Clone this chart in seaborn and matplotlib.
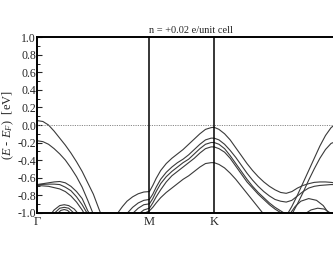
import numpy as np
import pandas as pd
import matplotlib
matplotlib.use("Agg")
import matplotlib.pyplot as plt
import seaborn as sns

sns.set_style("ticks")
plt.rcParams['font.family'] = ['Liberation Serif', 'DejaVu Serif']
plt.rcParams['mathtext.fontset'] = 'custom'
plt.rcParams['mathtext.rm'] = 'Liberation Serif'
plt.rcParams['mathtext.it'] = 'Liberation Serif:italic'

# high-symmetry points along the path (Gamma - M - K - Gamma)
sym_pos = [0.0, 1.0, 1.577, 2.732]
sym_labels = ['Γ', 'M', 'K', 'Γ']
title = "n = +0.02 e/unit cell"

# ---- Gamma -> M ----
g1_k = [0, 0.05, 0.1, 0.15, 0.2, 0.25, 0.3, 0.35, 0.4, 0.45, 0.5, 0.55, 0.6]
g1_e = [0.05, 0.04, 0.0, -0.07, -0.15, -0.23, -0.32, -0.42, -0.53, -0.66, -0.79, -0.96, -1.12]
g2_k = [0, 0.05, 0.1, 0.15, 0.2, 0.25, 0.3, 0.35, 0.4, 0.45, 0.5]
g2_e = [-0.18, -0.19, -0.22, -0.27, -0.33, -0.40, -0.49, -0.59, -0.71, -0.86, -1.02]
g3_k = [0, 0.05, 0.1, 0.15, 0.2, 0.25, 0.3, 0.35, 0.4, 0.45, 0.5]
g3a_e = [-0.68, -0.67, -0.66, -0.65, -0.645, -0.66, -0.70, -0.76, -0.84, -0.98, -1.08]
g3b_e = [-0.68, -0.678, -0.675, -0.675, -0.68, -0.71, -0.75, -0.82, -0.91, -1.02, -1.1]
g3c_e = [-0.69, -0.695, -0.70, -0.715, -0.73, -0.76, -0.81, -0.88, -0.97, -1.08, -1.15]
arc1_k = [0.12, 0.15, 0.2, 0.24, 0.28, 0.33, 0.37]
arc1_e = [-1.02, -0.97, -0.92, -0.91, -0.92, -0.96, -1.02]
arc2_k = [0.15, 0.2, 0.24, 0.28, 0.33]
arc2_e = [-1.01, -0.95, -0.94, -0.95, -1.01]
arc3_k = [0.18, 0.21, 0.24, 0.27, 0.3]
arc3_e = [-1.01, -0.975, -0.965, -0.975, -1.01]

# ---- bands through M and K (A..E, top to bottom at K) ----
mA_k = [0.72, 0.76, 0.8, 0.85, 0.9, 0.95, 1.0]
mA_e = [-1.0, -0.93, -0.87, -0.82, -0.785, -0.765, -0.76]
mB_k = [0.8, 0.85, 0.9, 0.95, 1.0]
mB_e = [-1.01, -0.94, -0.89, -0.86, -0.85]
mC_k = [0.85, 0.9, 0.95, 1.0]
mC_e = [-1.01, -0.95, -0.91, -0.90]
mD_k = [0.9, 0.95, 1.0]
mD_e = [-1.02, -0.97, -0.95]
mE_k = [0.95, 1.0]
mE_e = [-1.01, -0.98]

mk_k = [1.0, 1.03, 1.06, 1.1, 1.15, 1.2, 1.25, 1.3, 1.35, 1.4, 1.45, 1.5, 1.55, 1.577]
mkA_e = [-0.76, -0.69, -0.61, -0.52, -0.44, -0.38, -0.33, -0.28, -0.22, -0.16, -0.10, -0.05, -0.03, -0.026]
mkB_e = [-0.85, -0.79, -0.71, -0.62, -0.54, -0.48, -0.43, -0.39, -0.34, -0.28, -0.22, -0.17, -0.15, -0.15]
mkC_e = [-0.90, -0.84, -0.76, -0.67, -0.59, -0.53, -0.48, -0.43, -0.39, -0.33, -0.27, -0.22, -0.20, -0.20]
mkD_e = [-0.95, -0.89, -0.82, -0.74, -0.65, -0.58, -0.53, -0.48, -0.43, -0.38, -0.32, -0.27, -0.25, -0.25]
mkE_e = [-0.98, -0.94, -0.89, -0.83, -0.77, -0.72, -0.67, -0.62, -0.58, -0.53, -0.48, -0.44, -0.43, -0.43]

# ---- K -> Gamma ----
kg_k = [1.577, 1.62, 1.67, 1.72, 1.77, 1.82, 1.87, 1.92, 1.97, 2.02, 2.07, 2.12,
        2.17, 2.22, 2.27, 2.32, 2.37, 2.42, 2.47, 2.52, 2.57, 2.62, 2.67, 2.732]
kgA_e = [-0.026, -0.05, -0.10, -0.17, -0.26, -0.35, -0.44, -0.52, -0.59, -0.65, -0.70, -0.74,
         -0.77, -0.78, -0.76, -0.72, -0.69, -0.67, -0.655, -0.65, -0.65, -0.655, -0.665, -0.67]
kgB_e = [-0.15, -0.17, -0.22, -0.29, -0.37, -0.46, -0.55, -0.63, -0.70, -0.76, -0.81, -0.85,
         -0.87, -0.88, -0.86, -0.81, -0.76, -0.72, -0.70, -0.69, -0.685, -0.68, -0.68, -0.68]
kgC_k = kg_k[:14]
kgC_e = [-0.20, -0.22, -0.27, -0.35, -0.44, -0.53, -0.62, -0.70, -0.77, -0.83, -0.89, -0.94, -0.98, -1.02]
kgD_e = [-0.25, -0.27, -0.31, -0.38, -0.47, -0.56, -0.65, -0.72, -0.79, -0.85, -0.91, -0.96, -1.0, -1.03]
kgE_k = kg_k[:10]
kgE_e = [-0.43, -0.45, -0.49, -0.55, -0.62, -0.70, -0.78, -0.86, -0.94, -1.02]
r1_k = [2.22, 2.27, 2.32, 2.37, 2.42, 2.47, 2.52, 2.57, 2.62, 2.67, 2.732]
r1_e = [-1.04, -0.93, -0.80, -0.66, -0.52, -0.38, -0.24, -0.12, -0.03, 0.02, 0.05]
r2_k = [2.27, 2.32, 2.37, 2.42, 2.47, 2.52, 2.57, 2.62, 2.67, 2.732]
r2_e = [-1.02, -0.90, -0.77, -0.63, -0.50, -0.38, -0.28, -0.21, -0.185, -0.18]
arcR1_k = [2.25, 2.3, 2.35, 2.42, 2.49, 2.55, 2.6]
arcR1_e = [-1.02, -0.93, -0.87, -0.84, -0.86, -0.92, -1.01]
arcR2_k = [2.38, 2.44, 2.5, 2.56, 2.62]
arcR2_e = [-1.02, -0.97, -0.95, -0.96, -1.01]

bands = {
    'g1': (g1_k, g1_e), 'g2': (g2_k, g2_e),
    'g3a': (g3_k, g3a_e), 'g3b': (g3_k, g3b_e), 'g3c': (g3_k, g3c_e),
    'arc1': (arc1_k, arc1_e), 'arc2': (arc2_k, arc2_e), 'arc3': (arc3_k, arc3_e),
    'mA': (mA_k + mk_k[1:] + kg_k[1:], mA_e + mkA_e[1:] + kgA_e[1:]),
    'mB': (mB_k + mk_k[1:] + kg_k[1:], mB_e + mkB_e[1:] + kgB_e[1:]),
    'mC': (mC_k + mk_k[1:] + kgC_k[1:], mC_e + mkC_e[1:] + kgC_e[1:]),
    'mD': (mD_k + mk_k[1:] + kgC_k[1:], mD_e + mkD_e[1:] + kgD_e[1:]),
    'mE': (mE_k + mk_k[1:] + kgE_k[1:], mE_e + mkE_e[1:] + kgE_e[1:]),
    'r1': (r1_k, r1_e), 'r2': (r2_k, r2_e),
    'arcR1': (arcR1_k, arcR1_e), 'arcR2': (arcR2_k, arcR2_e),
}

rows = []
for name, (ks, es) in bands.items():
    for k, e in zip(ks, es):
        rows.append({'band': name, 'k': k, 'E': e})
df = pd.DataFrame(rows)

fig = plt.figure(figsize=(3.33, 2.58), dpi=100)
ax = fig.add_axes([0.112, 0.176, 0.920, 0.679])

sns.lineplot(data=df, x='k', y='E', units='band', estimator=None, sort=False,
             color='#3a3a3a', linewidth=0.8, ax=ax, legend=False)

ax.axhline(0, color='#888888', linestyle=(0, (1.2, 1.2)), linewidth=0.7)
for p in sym_pos[1:3]:
    ax.axvline(p, color='black', linewidth=1.1)

ax.set_xlim(sym_pos[0], sym_pos[-1])
ax.set_ylim(-1.0, 1.0)
# the closing Gamma lies past the right edge of the picture
ax.set_xticks(sym_pos[:3])
ax.set_xticklabels(sym_labels[:3], fontsize=9)
yt = np.round(np.arange(-1.0, 1.01, 0.2), 1)
ax.set_yticks(yt)
ax.set_yticklabels([f"{v:.1f}".replace('-0.0', '0.0') for v in yt], fontsize=8.5)
ax.yaxis.set_minor_locator(matplotlib.ticker.MultipleLocator(0.1))
ax.tick_params(axis='y', which='major', direction='in', length=3.5, width=0.8, pad=1)
ax.tick_params(axis='y', which='minor', direction='in', length=2, width=0.7)
ax.tick_params(axis='x', which='major', direction='in', length=0, pad=2.5)
for s in ax.spines.values():
    s.set_linewidth(1.4)
    s.set_color('black')

ax.set_xlabel('')
ax.set_ylabel(r'($E$ - $E_F$)  [eV]', fontsize=9)
ax.yaxis.set_label_coords(-0.068, 0.5)
ax.set_title(title, fontsize=7.5, pad=3)

fig.savefig('out.png', dpi=100)
